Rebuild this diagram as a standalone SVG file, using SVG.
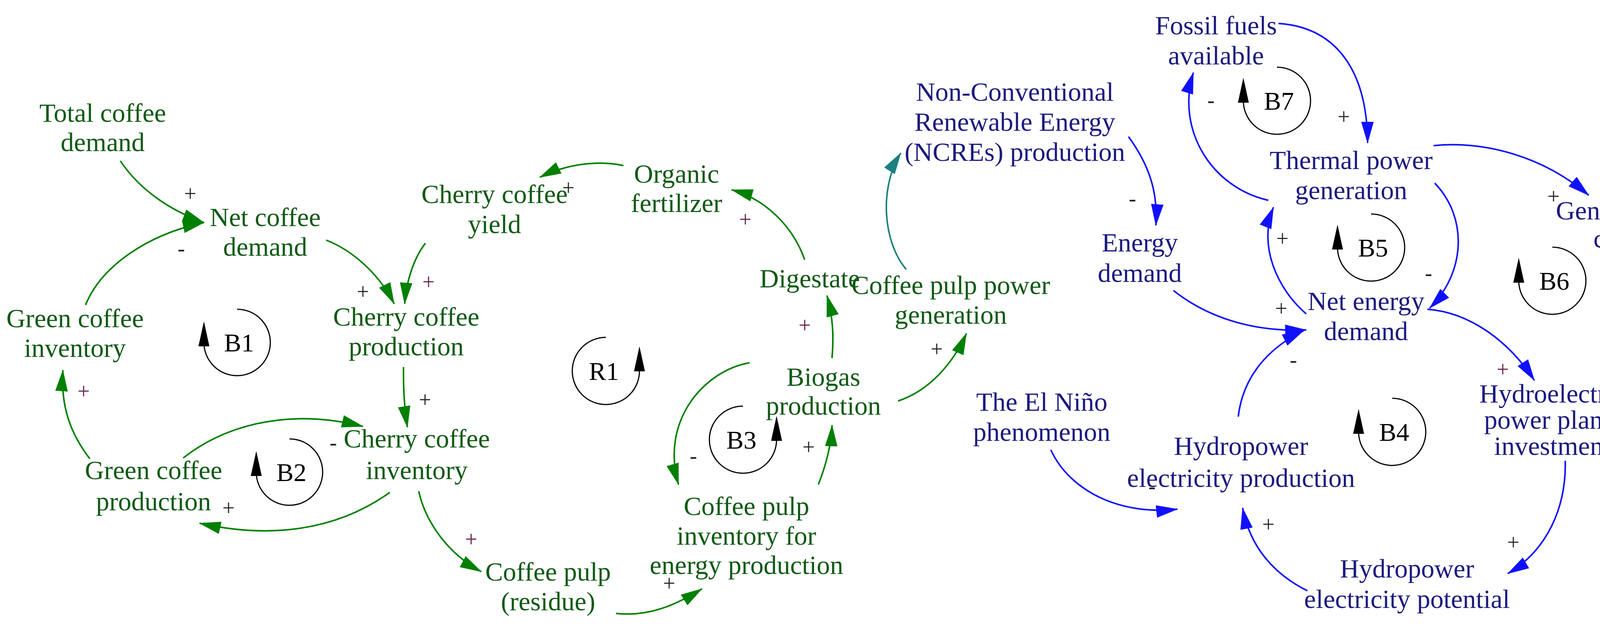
<svg xmlns="http://www.w3.org/2000/svg" width="4308" height="1616" viewBox="0 0 4308 1616">
<defs>
<marker id="ag" markerUnits="userSpaceOnUse" markerWidth="60" markerHeight="40" refX="54" refY="20" orient="auto"><path d="M0,4 L56,20 L0,36 Z" fill="#008000"/></marker>
<marker id="ab" markerUnits="userSpaceOnUse" markerWidth="60" markerHeight="40" refX="54" refY="20" orient="auto"><path d="M0,4 L56,20 L0,36 Z" fill="#1010ff"/></marker>
<marker id="at" markerUnits="userSpaceOnUse" markerWidth="60" markerHeight="40" refX="54" refY="20" orient="auto"><path d="M0,4 L56,20 L0,36 Z" fill="#1a8080"/></marker>
</defs>
<style>
text{font-family:"Liberation Serif","Times New Roman",serif;text-anchor:middle}
.g{fill:#0f5a14;font-size:68px}
.b{fill:#1a1a80;font-size:68px}
.p{fill:#222;font-size:56px}
.pp{fill:#602048;font-size:56px}
.lg{fill:#000;font-size:66px}
.cg{fill:none;stroke:#008000;stroke-width:4;marker-end:url(#ag)}
.cb{fill:none;stroke:#1010ff;stroke-width:4;marker-end:url(#ab)}
.ct{fill:none;stroke:#1a8080;stroke-width:4;marker-end:url(#at)}
.lp{fill:none;stroke:#000;stroke-width:3}
</style>
<rect width="4308" height="1616" fill="#fff"/>
<g id="connectors">
<path class="cg" d="M308,412 C360,490 440,540 522,570"/>
<path class="cg" d="M219,781 C260,680 380,600 522,570"/>
<path class="cg" d="M835,615 C900,640 970,700 1009,778"/>
<path class="cg" d="M1089,623 C1060,660 1040,720 1036,778"/>
<path class="cg" d="M1033,940 C1032,1000 1036,1050 1043,1094"/>
<path class="cg" d="M469,1173 C560,1100 720,1040 929,1092"/>
<path class="cg" d="M998,1261 C860,1360 690,1380 511,1340"/>
<path class="cg" d="M230,1175 C180,1110 155,1040 161,948"/>
<path class="cg" d="M1072,1258 C1090,1340 1150,1420 1232,1464"/>
<path class="cg" d="M1596,424 C1530,410 1450,420 1382,454"/>
<path class="cg" d="M2060,665 C2030,580 1960,510 1873,486"/>
<path class="cg" d="M2130,917 C2135,860 2132,810 2117,757"/>
<path class="cg" d="M2299,1027 C2380,1000 2440,930 2474,854"/>
<path class="cg" d="M1919,929 C1800,950 1690,1080 1737,1241"/>
<path class="cg" d="M2095,1241 C2115,1190 2128,1140 2130,1089"/>
<path class="cg" d="M1577,1571 C1660,1580 1730,1550 1797,1508"/>
<path class="ct" d="M2320,690 C2260,620 2250,480 2306,392"/>
<path class="cb" d="M3273,60 C3420,70 3500,180 3501,366"/>
<path class="cb" d="M3247,513 C3100,480 3010,330 3055,186"/>
<path class="cb" d="M2889,350 C2940,420 2965,490 2959,577"/>
<path class="cb" d="M3344,804 C3270,740 3220,630 3260,531"/>
<path class="cb" d="M3673,469 C3760,560 3750,700 3660,789"/>
<path class="cb" d="M3670,373 C3800,360 3950,400 4067,500"/>
<path class="cb" d="M3004,744 C3100,820 3220,850 3344,845"/>
<path class="cb" d="M3170,1067 C3180,980 3230,900 3337,847"/>
<path class="cb" d="M3654,792 C3760,800 3860,870 3928,974"/>
<path class="cb" d="M4227,647 C4290,750 4290,920 4185,1026"/>
<path class="cb" d="M4007,1180 C4010,1300 3960,1410 3860,1469"/>
<path class="cb" d="M3347,1513 C3260,1470 3200,1400 3181,1301"/>
<path class="cb" d="M2690,1152 C2740,1260 2870,1320 3014,1304"/>
</g>
<g id="polarities">
<text class="p" x="487" y="515">+</text>
<text class="p" x="464" y="655">-</text>
<text class="p" x="929" y="766">+</text>
<text class="pp" x="1097" y="741">+</text>
<text class="pp" x="214" y="1021">+</text>
<text class="p" x="1088" y="1043">+</text>
<text class="p" x="853" y="1152">-</text>
<text class="p" x="585" y="1320">+</text>
<text class="pp" x="1206" y="1400">+</text>
<text class="p" x="1455" y="500">+</text>
<text class="pp" x="1908" y="581">+</text>
<text class="pp" x="2060" y="852">+</text>
<text class="p" x="2398" y="913">+</text>
<text class="p" x="1775" y="1186">-</text>
<text class="p" x="2070" y="1164">+</text>
<text class="p" x="1713" y="1513">+</text>
<text class="p" x="3100" y="275">-</text>
<text class="p" x="3440" y="318">+</text>
<text class="p" x="2899" y="527">-</text>
<text class="p" x="3283" y="630">+</text>
<text class="p" x="3657" y="718">-</text>
<text class="p" x="3977" y="522">+</text>
<text class="p" x="3280" y="809">+</text>
<text class="p" x="3311" y="940">-</text>
<text class="pp" x="3847" y="965">+</text>
<text class="p" x="4185" y="955">+</text>
<text class="p" x="2949" y="1264">-</text>
<text class="p" x="3247" y="1362">+</text>
<text class="p" x="3874" y="1408">+</text>
</g>
<g id="loop-B1"><path class="lp" d="M607,792 A85,85 0 1 1 522,877"/><polygon points="522,823 508,887 536,887"/><text class="lg" x="612" y="900">B1</text></g>
<g id="loop-B2"><path class="lp" d="M741,1124 A85,85 0 1 1 656,1209"/><polygon points="656,1155 642,1219 670,1219"/><text class="lg" x="746" y="1232">B2</text></g>
<g id="loop-R1"><path class="lp" d="M1551,864 A86,86 0 1 0 1637,950"/><polygon points="1637,887 1623,951 1651,951"/><text class="lg" x="1546" y="973">R1</text></g>
<g id="loop-B3"><path class="lp" d="M1902,1040 A86,86 0 1 0 1988,1126"/><polygon points="1988,1065 1974,1129 2002,1129"/><text class="lg" x="1898" y="1149">B3</text></g>
<g id="loop-B7"><path class="lp" d="M3269,172 A86,86 0 1 1 3183,258"/><polygon points="3183,199 3169,263 3197,263"/><text class="lg" x="3274" y="281">B7</text></g>
<g id="loop-B5"><path class="lp" d="M3510,548 A86,86 0 1 1 3424,634"/><polygon points="3424,575 3410,639 3438,639"/><text class="lg" x="3515" y="657">B5</text></g>
<g id="loop-B6"><path class="lp" d="M3974,633 A86,86 0 1 1 3888,719"/><polygon points="3888,660 3874,724 3902,724"/><text class="lg" x="3979" y="742">B6</text></g>
<g id="loop-B4"><path class="lp" d="M3564,1020 A86,86 0 1 1 3478,1106"/><polygon points="3478,1047 3464,1111 3492,1111"/><text class="lg" x="3569" y="1129">B4</text></g>
<g id="n-total-coffee-demand"><text class="g" x="263" y="312">Total coffee</text><text class="g" x="263" y="387">demand</text></g>
<g id="n-net-coffee-demand"><text class="g" x="679" y="579">Net coffee</text><text class="g" x="679" y="655">demand</text></g>
<g id="n-green-coffee-inventory"><text class="g" x="192" y="838">Green coffee</text><text class="g" x="192" y="914">inventory</text></g>
<g id="n-cherry-coffee-production"><text class="g" x="1040" y="834">Cherry coffee</text><text class="g" x="1040" y="910">production</text></g>
<g id="n-cherry-coffee-inventory"><text class="g" x="1067" y="1146">Cherry coffee</text><text class="g" x="1067" y="1227">inventory</text></g>
<g id="n-green-coffee-production"><text class="g" x="393" y="1227">Green coffee</text><text class="g" x="393" y="1307">production</text></g>
<g id="n-cherry-coffee-yield"><text class="g" x="1266" y="520">Cherry coffee</text><text class="g" x="1266" y="597">yield</text></g>
<g id="n-organic-fertilizer"><text class="g" x="1732" y="468">Organic</text><text class="g" x="1732" y="543">fertilizer</text></g>
<g id="n-digestate"><text class="g" x="2073" y="736">Digestate</text></g>
<g id="n-coffee-pulp-power"><text class="g" x="2434" y="753">Coffee pulp power</text><text class="g" x="2434" y="829">generation</text></g>
<g id="n-biogas"><text class="g" x="2108" y="988">Biogas</text><text class="g" x="2108" y="1062">production</text></g>
<g id="n-coffee-pulp-inventory"><text class="g" x="1911" y="1319">Coffee pulp</text><text class="g" x="1911" y="1395">inventory for</text><text class="g" x="1911" y="1470">energy production</text></g>
<g id="n-coffee-pulp-residue"><text class="g" x="1403" y="1487">Coffee pulp</text><text class="g" x="1403" y="1563">(residue)</text></g>
<g id="n-fossil-fuels"><text class="b" x="3113" y="88">Fossil fuels</text><text class="b" x="3113" y="165">available</text></g>
<g id="n-ncre"><text class="b" x="2598" y="258">Non-Conventional</text><text class="b" x="2598" y="335">Renewable Energy</text><text class="b" x="2598" y="412">(NCREs) production</text></g>
<g id="n-energy-demand"><text class="b" x="2918" y="644">Energy</text><text class="b" x="2918" y="722">demand</text></g>
<g id="n-thermal-power"><text class="b" x="3459" y="433">Thermal power</text><text class="b" x="3459" y="510">generation</text></g>
<g id="n-generation-cost"><text class="b" x="4134" y="562">Generation</text><text class="b" x="4134" y="634">cost</text></g>
<g id="n-net-energy-demand"><text class="b" x="3497" y="794">Net energy</text><text class="b" x="3497" y="871">demand</text></g>
<g id="n-hydropower-production"><text class="b" x="3177" y="1165">Hydropower</text><text class="b" x="3177" y="1247">electricity production</text></g>
<g id="n-el-nino"><text class="b" x="2667" y="1052">The El Niño</text><text class="b" x="2667" y="1129">phenomenon</text></g>
<g id="n-hydro-investment"><text class="b" x="3974" y="1031">Hydroelectric</text><text class="b" x="3974" y="1098">power plants</text><text class="b" x="3974" y="1165">investment</text></g>
<g id="n-hydropower-potential"><text class="b" x="3602" y="1479">Hydropower</text><text class="b" x="3602" y="1557">electricity potential</text></g>
</svg>
